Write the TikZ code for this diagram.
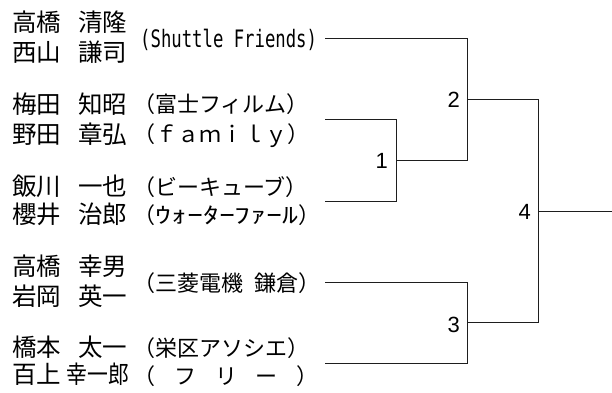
\documentclass[tikz,border=0pt]{standalone}
\usepackage{fontspec}
\setmainfont{Noto Sans CJK JP}
\newfontfamily\monofont{DejaVu Sans Mono}
\newfontfamily\numfont{Liberation Sans}

\begin{document}
\begin{tikzpicture}[x=1pt,y=-1pt]
\definecolor{linecolor}{RGB}{30,30,30}
\definecolor{textcolor}{RGB}{0,0,0}
\tikzset{
  player/.style={anchor=base west,inner sep=0pt,text=textcolor,font=\fontsize{24.5}{24.5}\selectfont},
  team/.style={anchor=base west,inner sep=0pt,text=textcolor,font=\fontsize{22}{22}\selectfont},
  round/.style={anchor=east,inner sep=0pt,text=textcolor,font=\numfont\fontsize{22}{22}\selectfont},
  bracket/.style={draw=linecolor,line width=0.9pt}
}
\useasboundingbox (0,0) rectangle (612,392);
% players
\node [player] (p1) at (12,31) {高橋\hspace{17pt}清隆};
\node [player] (p2) at (12,61) {西山\hspace{17pt}謙司};
\node [player] (p3) at (12,113) {梅田\hspace{17pt}知昭};
\node [player] (p4) at (12,143) {野田\hspace{17pt}章弘};
\node [player] (p5) at (12,195) {飯川\hspace{17pt}一也};
\node [player] (p6) at (12,223) {櫻井\hspace{17pt}治郎};
\node [player] (p7) at (12,275) {高橋\hspace{17pt}幸男};
\node [player] (p8) at (12,305) {岩岡\hspace{17pt}英一};
\node [player] (p9) at (12,356) {橋本\hspace{17pt}太一};
\node [player] (p10) at (12,383) {百上 \scalebox{0.85}[1]{幸一郎}};
% teams
\node [team] (t1) at (140,47) {\monofont\fontsize{24}{24}\selectfont\scalebox{0.72}[1]{(Shuttle Friends)}};
\node [team] (t3) at (133,112) {（富士フィルム）};
\node [team] (t4) at (133,142) {（ｆａｍｉｌｙ）};
\node [team] (t5) at (133,195) {（ビーキューブ）};
\node [team] (t6) at (133,223) {（\scalebox{1.45}[1]{ｳｫｰﾀｰﾌｧｰﾙ}）};
\node [team] (t7) at (133,291) {（三菱電機\hspace{0.5em}鎌倉）};
\node [team] (t9) at (133,356) {（栄区アソシエ）};
\node [team] (t10) at (133,384) {（\hspace{0.86em}フ\hspace{0.86em}リ\hspace{0.86em}ー\hspace{0.86em}）};
% bracket
\coordinate (e1) at (325,38);
\coordinate (e2) at (325,119);
\coordinate (e3) at (325,201);
\coordinate (e4) at (325,282);
\coordinate (e5) at (325,363);
\coordinate (m1) at (396,160);
\coordinate (m2) at (467,99);
\coordinate (m3) at (467,322);
\coordinate (m4) at (538,211);
\coordinate (win) at (612,211);
\draw [bracket] (e2) -| (m1);
\draw [bracket] (e3) -| (m1);
\draw [bracket] (e1) -| (m2);
\draw [bracket] (m1) -| (m2);
\draw [bracket] (e4) -| (m3);
\draw [bracket] (e5) -| (m3);
\draw [bracket] (m2) -| (m4);
\draw [bracket] (m3) -| (m4);
\draw [bracket] (m4) -- (win);
\node [round] (r1) at (388,161) {1};
\node [round] (r2) at (460,100) {2};
\node [round] (r3) at (460,325) {3};
\node [round] (r4) at (531,212) {4};
\end{tikzpicture}
\end{document}
